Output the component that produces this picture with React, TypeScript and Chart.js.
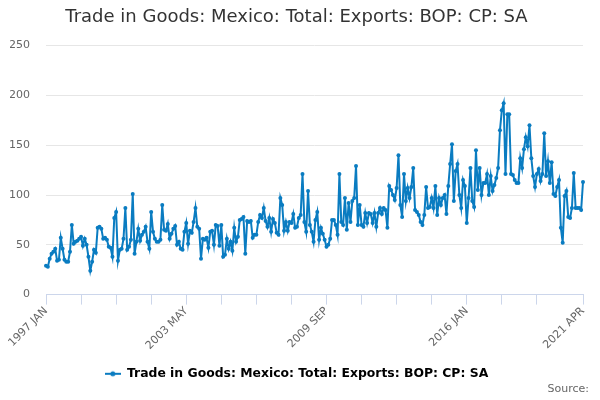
import { useEffect, useRef } from 'react';
import { Chart, registerables } from 'chart.js';

Chart.register(...registerables);

const seriesLabel = 'Trade in Goods: Mexico: Total: Exports: BOP: CP: SA';
const startYear = 1997;
const monthNames = ['JAN', 'FEB', 'MAR', 'APR', 'MAY', 'JUN', 'JUL', 'AUG', 'SEP', 'OCT', 'NOV', 'DEC'];

// monthly values, Jan 1997 .. Apr 2021
const exportValues = [
  29, 28, 36, 41, 43, 46, 34, 35, 57, 46, 35, 33,
  33, 43, 70, 51, 53, 54, 56, 58, 49, 56, 50, 38,
  24, 33, 45, 42, 67, 68, 66, 56, 57, 55, 48, 47,
  38, 77, 83, 34, 45, 46, 56, 87, 45, 48, 55, 101,
  41, 53, 66, 54, 60, 63, 68, 53, 46, 83, 63, 56,
  53, 53, 55, 90, 65, 64, 71, 56, 61, 66, 69, 50,
  53, 46, 45, 63, 72, 51, 64, 62, 73, 87, 68, 66,
  36, 56, 55, 57, 47, 63, 64, 50, 70, 69, 49, 70,
  38, 40, 56, 46, 53, 44, 67, 53, 58, 75, 76, 78,
  41, 74, 73, 74, 57, 60, 60, 73, 80, 77, 87, 74,
  68, 77, 63, 76, 72, 62, 60, 97, 90, 64, 73, 64,
  73, 72, 81, 67, 68, 77, 80, 121, 73, 63, 104, 70,
  63, 53, 75, 83, 55, 67, 61, 55, 48, 50, 56, 75,
  75, 70, 60, 121, 73, 70, 97, 65, 92, 73, 94, 97,
  129, 70, 90, 70, 68, 82, 72, 82, 81, 72, 82, 68,
  82, 87, 81, 87, 85, 67, 109, 105, 100, 95, 107, 140,
  90, 78, 121, 94, 107, 97, 108, 127, 85, 83, 80, 73,
  70, 80, 108, 87, 88, 97, 87, 109, 80, 97, 90, 97,
  100, 81, 109, 131, 151, 94, 124, 131, 100, 87, 115, 109,
  72, 97, 127, 94, 88, 145, 105, 127, 100, 112, 112, 121,
  100, 119, 104, 110, 117, 127, 165, 185, 192, 121, 181, 181,
  121, 120, 115, 112, 112, 137, 127, 146, 158, 149, 170, 137,
  119, 108, 121, 126, 114, 121, 162, 119, 134, 112, 133, 101,
  99, 108, 115, 67, 52, 99, 104, 78, 77, 87, 122, 87,
  87, 87, 85, 113,
];

const labeledTicks = ['1997 JAN', '2003 MAY', '2009 SEP', '2016 JAN', '2021 APR'];
const tickStep = 19; // months between x tick marks
const yMax = 250;
const yStep = 50;

const categories = exportValues.map(
  (_, i) => `${startYear + Math.floor(i / 12)} ${monthNames[i % 12]}`
);

const lineColor = '#0a7cc1';
const fontFamily = '"DejaVu Sans", Verdana, sans-serif';

const sourceNote = {
  id: 'sourceNote',
  afterDraw(chart: Chart) {
    const ctx = chart.ctx;
    ctx.save();
    ctx.font = `11px ${fontFamily}`;
    ctx.fillStyle = '#666666';
    ctx.textAlign = 'right';
    ctx.textBaseline = 'middle';
    ctx.fillText('Source:', chart.width - 11, 389);
    ctx.restore();
  },
};

export default function App() {
  const canvasRef = useRef<HTMLCanvasElement>(null);
  const chartRef = useRef<Chart | null>(null);

  useEffect(() => {
    if (!canvasRef.current) return;
    if (chartRef.current) chartRef.current.destroy();

    // legend symbol: short line with a dot
    const symbol = document.createElement('canvas');
    symbol.width = 16;
    symbol.height = 8;
    const sctx = symbol.getContext('2d');
    if (sctx) {
      sctx.strokeStyle = lineColor;
      sctx.lineWidth = 2;
      sctx.beginPath();
      sctx.moveTo(0, 4);
      sctx.lineTo(16, 4);
      sctx.stroke();
      sctx.fillStyle = lineColor;
      sctx.beginPath();
      sctx.arc(8, 4, 2.5, 0, Math.PI * 2);
      sctx.fill();
    }

    Chart.defaults.font.family = fontFamily;

    chartRef.current = new Chart(canvasRef.current, {
      type: 'line',
      data: {
        labels: categories,
        datasets: [
          {
            label: seriesLabel,
            data: exportValues,
            borderColor: lineColor,
            backgroundColor: lineColor,
            borderWidth: 2,
            pointRadius: 2,
            pointBorderWidth: 0,
            pointBackgroundColor: lineColor,
            tension: 0,
            fill: false,
          },
        ],
      },
      options: {
        responsive: false,
        animation: false,
        layout: { padding: { left: 10, right: 17, top: 0, bottom: 10 } },
        plugins: {
          title: {
            display: true,
            text: seriesLabel,
            color: '#333333',
            font: { size: 18, weight: 'normal' },
            padding: { top: 7, bottom: 17 },
          },
          legend: {
            position: 'bottom',
            labels: {
              usePointStyle: true,
              pointStyleWidth: 16,
              color: '#333333',
              font: { size: 12.4, weight: 'bold' },
              padding: 10,
              generateLabels: () => [
                {
                  text: seriesLabel,
                  pointStyle: symbol,
                  fillStyle: lineColor,
                  strokeStyle: lineColor,
                  lineWidth: 0,
                  hidden: false,
                  datasetIndex: 0,
                },
              ],
            },
          },
          tooltip: { enabled: false },
        },
        scales: {
          x: {
            type: 'category',
            afterBuildTicks: (scale: any) => {
              const last = categories.length - 1;
              const idx: number[] = [];
              for (let i = 0; i < last - tickStep / 2; i += tickStep) idx.push(i);
              idx.push(last);
              scale.ticks = idx.map((value) => ({ value }));
            },
            afterFit: (scale: any) => {
              scale.height = 63;
            },
            grid: {
              display: true,
              drawOnChartArea: false,
              drawTicks: true,
              tickLength: 10,
              color: '#ccd6eb',
            },
            border: { color: '#ccd6eb', width: 1 },
            ticks: {
              autoSkip: false,
              minRotation: 45,
              maxRotation: 45,
              padding: 0,
              color: '#666666',
              font: { size: 11 },
              callback: (value: any) => {
                const lab = categories[value as number];
                return labeledTicks.includes(lab) ? lab : '';
              },
            },
          },
          y: {
            min: 0,
            max: yMax,
            afterFit: (scale: any) => {
              scale.width = 36;
            },
            grid: { color: '#e6e6e6', drawTicks: false },
            border: { display: false },
            ticks: {
              stepSize: yStep,
              padding: 16,
              color: '#666666',
              font: { size: 11 },
            },
          },
        },
      },
      plugins: [sourceNote],
    });

    return () => {
      if (chartRef.current) {
        chartRef.current.destroy();
        chartRef.current = null;
      }
    };
  }, []);

  return (
    <div style={{ position: 'absolute', left: 0, top: 0, width: 600, height: 400, background: '#fff' }}>
      <canvas ref={canvasRef} width={600} height={400}></canvas>
    </div>
  );
}
